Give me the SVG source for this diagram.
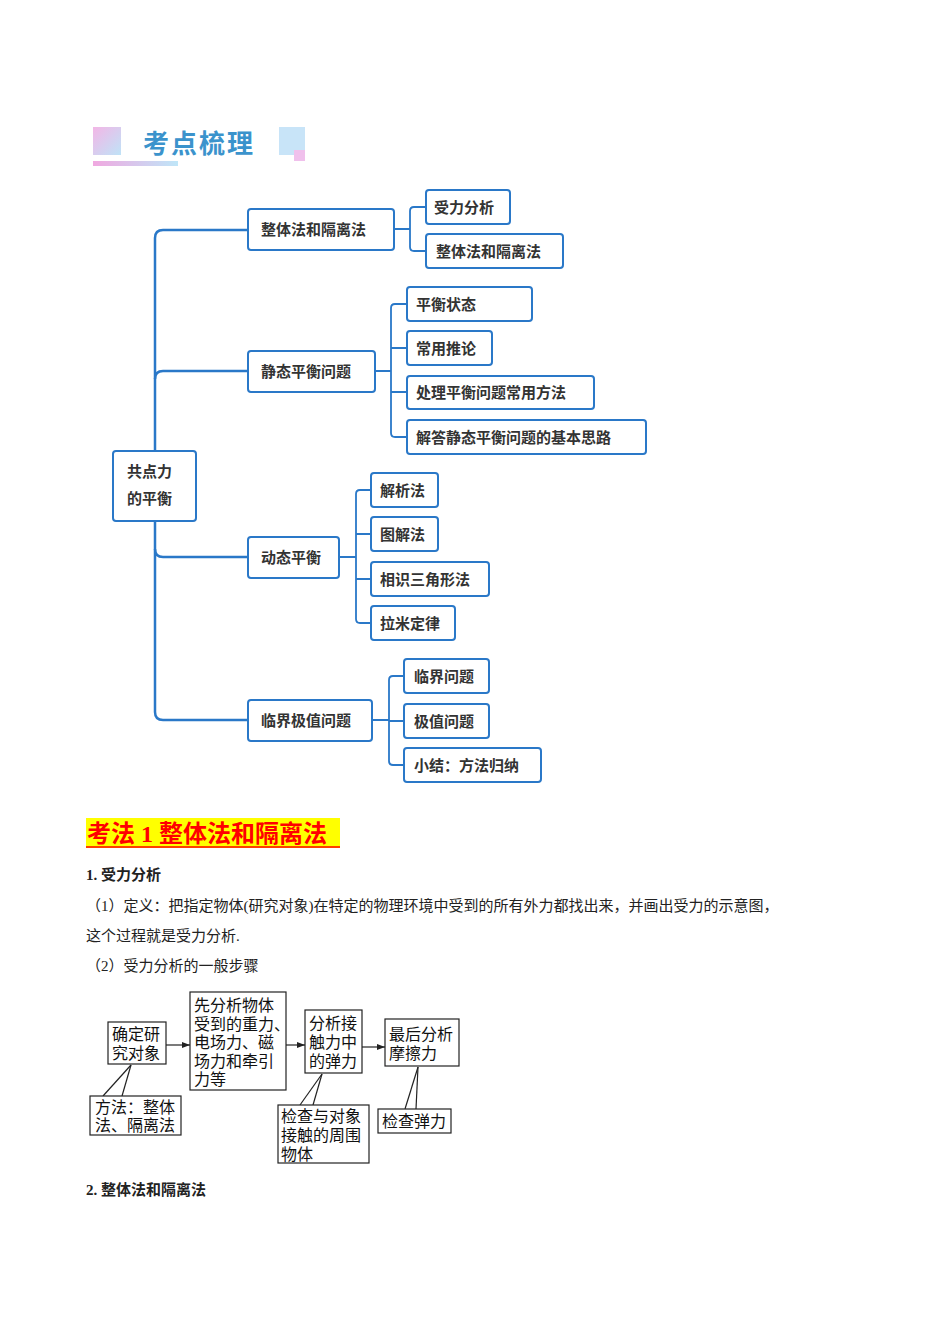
<svg xmlns="http://www.w3.org/2000/svg" width="950" height="1344" viewBox="0 0 950 1344">
<defs>
<linearGradient id="pg" x1="0" y1="0" x2="1" y2="1"><stop offset="0" stop-color="#f3b6e6"/><stop offset="1" stop-color="#bfe3f7"/></linearGradient>
<linearGradient id="bar" x1="0" y1="0" x2="1" y2="0"><stop offset="0" stop-color="#f0a8e0"/><stop offset="1" stop-color="#bfe6f8"/></linearGradient>
<marker id="ar" markerWidth="8" markerHeight="6" refX="8" refY="3" orient="auto" markerUnits="userSpaceOnUse"><path d="M0,0 L8,3 L0,6 Z" fill="#222"/></marker>
</defs>
<style>
.n rect{fill:#fff;stroke:#2a78c8;stroke-width:2}
.n text{font-family:"Liberation Serif","Noto Sans CJK SC",serif;font-size:15px;fill:#333;font-weight:bold}
.c path{fill:none;stroke:#2a78c8;stroke-width:2.5}
.c2 path{fill:none;stroke:#2a78c8;stroke-width:1.8}
.f rect{fill:#fff;stroke:#222;stroke-width:1.2}
.f text{font-family:"Liberation Serif","Noto Sans CJK SC",serif;font-size:16px;fill:#111}
.fl line{stroke:#222;stroke-width:1.2}
.t{font-family:"Liberation Serif","Noto Sans CJK SC",serif;font-size:15px;fill:#222}
</style>
<rect width="950" height="1344" fill="#fff"/>
<g id="header">
<rect x="93" y="127" width="28" height="28" fill="url(#pg)"/>
<text x="143" y="153" font-family="'Noto Sans CJK SC',sans-serif" font-size="26" font-weight="bold" fill="#3b93cc" letter-spacing="2">考点梳理</text>
<rect x="279" y="127" width="26" height="28" fill="#c8e4f8"/>
<rect x="294" y="150" width="11" height="11" fill="#f0c0ec"/>
<rect x="93" y="161" width="85" height="5" fill="url(#bar)"/>
</g>
<g id="connectors">
<g class="c">
<path d="M248,230 H163 Q155,230 155,238 V712 Q155,720 163,720 H248"/>
<path d="M248,371 H163 Q155,371 155,379"/>
<path d="M248,557 H163 Q155,557 155,549"/>
</g>
<g class="c2">
<path d="M394,229 H410 M426,207 H414 Q410,207 410,211 V247 Q410,251 414,251 H426"/>
<path d="M375,371 H391 M407,304 H395 Q391,304 391,308 V433 Q391,437 395,437 H407 M391,348 H407 M391,392 H407"/>
<path d="M339,557 H356 M371,490 H360 Q356,490 356,494 V619 Q356,623 360,623 H371 M356,534 H371 M356,579 H371"/>
<path d="M372,720 H389 M404,676 H393 Q389,676 389,680 V761 Q389,765 393,765 H404 M389,721 H404"/>
</g>
</g>
<g id="root" class="n"><rect x="113" y="451" width="83" height="70" rx="3"/><text x="127" y="477">共点力</text><text x="127" y="504">的平衡</text></g>
<g id="n1" class="n"><rect x="248" y="209" width="146" height="41" rx="3"/><text x="261" y="235">整体法和隔离法</text></g>
<g id="n1a" class="n"><rect x="426" y="190" width="84" height="34" rx="3"/><text x="434" y="213" font-weight="normal">受力分析</text></g>
<g id="n1b" class="n"><rect x="426" y="234" width="137" height="34" rx="3"/><text x="436" y="257">整体法和隔离法</text></g>
<g id="n2" class="n"><rect x="248" y="351" width="127" height="41" rx="3"/><text x="261" y="377">静态平衡问题</text></g>
<g id="n2a" class="n"><rect x="407" y="287" width="125" height="34" rx="3"/><text x="416" y="310">平衡状态</text></g>
<g id="n2b" class="n"><rect x="407" y="331" width="85" height="34" rx="3"/><text x="416" y="354">常用推论</text></g>
<g id="n2c" class="n"><rect x="407" y="376" width="187" height="33" rx="3"/><text x="416" y="398">处理平衡问题常用方法</text></g>
<g id="n2d" class="n"><rect x="407" y="420" width="239" height="34" rx="3"/><text x="416" y="443">解答静态平衡问题的基本思路</text></g>
<g id="n3" class="n"><rect x="248" y="537" width="91" height="41" rx="3"/><text x="261" y="563">动态平衡</text></g>
<g id="n3a" class="n"><rect x="371" y="473" width="67" height="34" rx="3"/><text x="380" y="496">解析法</text></g>
<g id="n3b" class="n"><rect x="371" y="517" width="67" height="34" rx="3"/><text x="380" y="540">图解法</text></g>
<g id="n3c" class="n"><rect x="371" y="562" width="118" height="34" rx="3"/><text x="380" y="585">相识三角形法</text></g>
<g id="n3d" class="n"><rect x="371" y="606" width="84" height="34" rx="3"/><text x="380" y="629">拉米定律</text></g>
<g id="n4" class="n"><rect x="248" y="700" width="124" height="41" rx="3"/><text x="261" y="726">临界极值问题</text></g>
<g id="n4a" class="n"><rect x="404" y="659" width="85" height="34" rx="3"/><text x="414" y="682">临界问题</text></g>
<g id="n4b" class="n"><rect x="404" y="704" width="85" height="34" rx="3"/><text x="414" y="727">极值问题</text></g>
<g id="n4c" class="n"><rect x="404" y="748" width="137" height="34" rx="3"/><text x="414" y="771">小结：方法归纳</text></g>
<g id="section">
<rect x="86" y="818" width="254" height="30" fill="#ffff00"/>
<text x="87" y="842" font-family="'Liberation Serif','Noto Sans CJK SC',serif" font-size="24" font-weight="bold" fill="#ff0000">考法 1 整体法和隔离法</text>
<line x1="86" y1="847" x2="340" y2="847" stroke="#ff0000" stroke-width="1.5"/>
<text x="86" y="880" class="t" font-weight="bold">1. 受力分析</text>
<text x="86" y="911" class="t">（1）定义：把指定物体(研究对象)在特定的物理环境中受到的所有外力都找出来，并画出受力的示意图，</text>
<text x="86" y="941" class="t">这个过程就是受力分析.</text>
<text x="86" y="971" class="t">（2）受力分析的一般步骤</text>
<text x="86" y="1195" class="t" font-weight="bold">2. 整体法和隔离法</text>
</g>
<g id="flow-connectors" class="fl">
<line x1="166" y1="1045" x2="190" y2="1045" marker-end="url(#ar)"/>
<line x1="286" y1="1045" x2="305" y2="1045" marker-end="url(#ar)"/>
<line x1="362" y1="1047" x2="385" y2="1047" marker-end="url(#ar)"/>
<line x1="103" y1="1096" x2="131" y2="1065"/><line x1="122" y1="1096" x2="131" y2="1065"/>
<line x1="300" y1="1105" x2="322" y2="1074"/><line x1="313" y1="1105" x2="322" y2="1074"/>
<line x1="405" y1="1109" x2="418" y2="1067"/><line x1="416" y1="1109" x2="418" y2="1067"/>
</g>
<g id="f1" class="f"><rect x="108" y="1022" width="58" height="42"/><text x="112" y="1040">确定研</text><text x="112" y="1059">究对象</text></g>
<g id="f2" class="f"><rect x="190" y="992" width="96" height="98"/><text x="194" y="1011">先分析物体</text><text x="194" y="1030">受到的重力、</text><text x="194" y="1048">电场力、磁</text><text x="194" y="1067">场力和牵引</text><text x="194" y="1085">力等</text></g>
<g id="f3" class="f"><rect x="305" y="1010" width="57" height="63"/><text x="309" y="1029">分析接</text><text x="309" y="1048">触力中</text><text x="309" y="1067">的弹力</text></g>
<g id="f4" class="f"><rect x="385" y="1019" width="74" height="47"/><text x="389" y="1040">最后分析</text><text x="389" y="1059">摩擦力</text></g>
<g id="f5" class="f"><rect x="90" y="1096" width="91" height="39"/><text x="95" y="1113">方法：整体</text><text x="95" y="1131">法、隔离法</text></g>
<g id="f6" class="f"><rect x="278" y="1105" width="91" height="58"/><text x="281" y="1122">检查与对象</text><text x="281" y="1141">接触的周围</text><text x="281" y="1160">物体</text></g>
<g id="f7" class="f"><rect x="378" y="1109" width="73" height="24"/><text x="382" y="1127">检查弹力</text></g>
</svg>
